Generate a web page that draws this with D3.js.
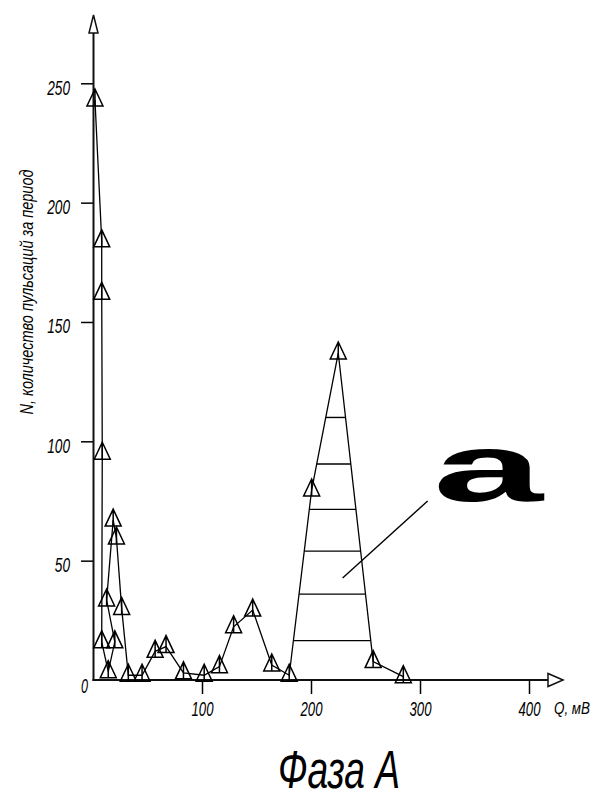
<!DOCTYPE html>
<html>
<head>
<meta charset="utf-8">
<script src="https://cdn.jsdelivr.net/npm/d3@7"></script>
<style>
    body { margin: 0; background: #fff; }
    svg text { font-family: "Liberation Sans", Arial, sans-serif; font-style: italic; fill: #000; }
</style>
</head>
<body>
<div id="chart"></div>
<script>
// Q, mV (x) and pulse counts N (y), in drawing order
const qValues = [1.8, 8, 8, 8.5, 8, 14, 20, 12.5, 18.5, 21.5, 26.3, 32.4, 45, 57, 67, 83, 102, 116, 129, 146.5, 164, 180, 200.6, 225, 257, 284.7];
const nValues = [243, 184, 162, 95, 16, 3.5, 16, 33.5, 67, 59.5, 30, 2, 2, 12, 14, 3, 2, 5.6, 22.3, 29.3, 6.3, 2, 79.6, 137, 7.7, 1.4];

const xTicks = [100, 200, 300, 400];
const yTicks = [50, 100, 150, 200, 250];

// hatching inside the "a" peak
const hatchLevels = [16.5, 36, 54, 71.5, 90.5, 110];
// leader from the hatched area to the label
const leaderQ = [229, 307];
const leaderN = [42.7, 75];

const xLabel = "Q, мВ";
const yLabel = "N, количество пульсаций за период";
const title = "Фаза А";
const tag = "a";

const width = 597, height = 801;

const svg = d3.select("#chart").append("svg")
    .attr("width", width)
    .attr("height", height);

const x = d3.scaleLinear().domain([0, 400]).range([93, 529]);
const y = d3.scaleLinear().domain([0, 250]).range([680, 83.3]);

// axes
const xAxis = svg.append("g")
    .attr("transform", `translate(0,${y(0)})`)
    .call(d3.axisBottom(x).tickValues(xTicks).tickSize(14));
xAxis.select(".domain").remove();
xAxis.selectAll("line").attr("stroke", "#000").attr("stroke-width", 1.5);
xAxis.selectAll("text")
    .attr("y", 36).attr("dy", null)
    .attr("font-size", 20)
    .attr("textLength", 22).attr("lengthAdjust", "spacingAndGlyphs");

const yAxis = svg.append("g")
    .attr("transform", `translate(${x(0) + 1},0)`)
    .call(d3.axisLeft(y).tickValues(yTicks).tickSize(13));
yAxis.select(".domain").remove();
yAxis.selectAll("line").attr("stroke", "#000").attr("stroke-width", 1.5);
yAxis.selectAll("text")
    .attr("x", -24).attr("y", 11).attr("dy", null)
    .attr("font-size", 20)
    .attr("textLength", d => String(d).length * 7.6)
    .attr("lengthAdjust", "spacingAndGlyphs");

// origin label
svg.append("text")
    .attr("x", x(0) - 5).attr("y", y(0) + 13)
    .attr("text-anchor", "end")
    .attr("font-size", 20)
    .attr("textLength", 7).attr("lengthAdjust", "spacingAndGlyphs")
    .text("0");

// axis lines with open arrows
const axisG = svg.append("g").attr("stroke", "#111").attr("fill", "#fff");
const x0 = x(0) + 0.5, y0 = y(0);
axisG.append("line").attr("x1", x0).attr("y1", y0 + 1).attr("x2", x0).attr("y2", 33).attr("stroke-width", 2);
axisG.append("path").attr("d", `M${x0},15 L${x0 - 4.5},33 L${x0 + 4.5},33 Z`).attr("stroke-width", 1.5);
axisG.append("line").attr("x1", x0 - 1).attr("y1", y0).attr("x2", 548).attr("y2", y0).attr("stroke-width", 2);
axisG.append("path").attr("d", `M563,${y0} L548,${y0 - 6.5} L548,${y0 + 6.5} Z`).attr("stroke-width", 1.5);

// hatching between the two slopes of the big peak
const points = qValues.map((q, i) => ({q: q, n: nValues[i]}));
let peak = -1;
points.forEach((p, i) => { if (p.q > 150 && (peak < 0 || p.n > points[peak].n)) peak = i; });

function crossLeft(level) {
    for (let i = peak; i > 0; i--) {
        let a = points[i - 1], b = points[i];
        if (level >= a.n && level <= b.n) return a.q + (level - a.n) / (b.n - a.n) * (b.q - a.q);
    }
}
function crossRight(level) {
    for (let i = peak; i < points.length - 1; i++) {
        let a = points[i], b = points[i + 1];
        if (level <= a.n && level >= b.n) return a.q + (a.n - level) / (a.n - b.n) * (b.q - a.q);
    }
}

svg.append("g").selectAll("line")
    .data(hatchLevels)
    .enter()
    .append("line")
    .attr("x1", d => x(crossLeft(d)))
    .attr("x2", d => x(crossRight(d)))
    .attr("y1", d => y(d))
    .attr("y2", d => y(d))
    .attr("stroke", "#000")
    .attr("stroke-width", 1.4);

// leader line
svg.append("line")
    .attr("x1", x(leaderQ[0])).attr("y1", y(leaderN[0]))
    .attr("x2", x(leaderQ[1])).attr("y2", y(leaderN[1]))
    .attr("stroke", "#000").attr("stroke-width", 1.4);

// data line
const line = d3.line().x(d => x(d.q)).y(d => y(d.n));
svg.append("path")
    .datum(points)
    .attr("d", line)
    .attr("fill", "none")
    .attr("stroke", "#000")
    .attr("stroke-width", 1.3);

// triangle markers
svg.append("g").selectAll("path")
    .data(points)
    .enter()
    .append("path")
    .attr("transform", d => `translate(${x(d.q)},${y(d.n)})`)
    .attr("d", "M0,-11 L-8,6 L8,6 Z M0,-11 L0,6")
    .attr("fill", "none")
    .attr("stroke", "#000")
    .attr("stroke-width", 1.5);

// labels
svg.append("text")
    .attr("transform", "translate(33,292) rotate(-90)")
    .attr("text-anchor", "middle")
    .attr("font-size", 19)
    .attr("textLength", 245).attr("lengthAdjust", "spacingAndGlyphs")
    .text(yLabel);

svg.append("text")
    .attr("x", 554).attr("y", 714)
    .attr("font-size", 16)
    .attr("textLength", 36).attr("lengthAdjust", "spacingAndGlyphs")
    .text(xLabel);

svg.append("text")
    .attr("x", 278).attr("y", 788)
    .attr("font-size", 54)
    .attr("textLength", 122).attr("lengthAdjust", "spacingAndGlyphs")
    .text(title);

svg.append("text")
    .attr("x", 433).attr("y", 501)
    .attr("font-size", 96)
    .attr("font-weight", "bold")
    .style("font-style", "normal")
    .attr("textLength", 110).attr("lengthAdjust", "spacingAndGlyphs")
    .text(tag);
</script>
</body>
</html>
